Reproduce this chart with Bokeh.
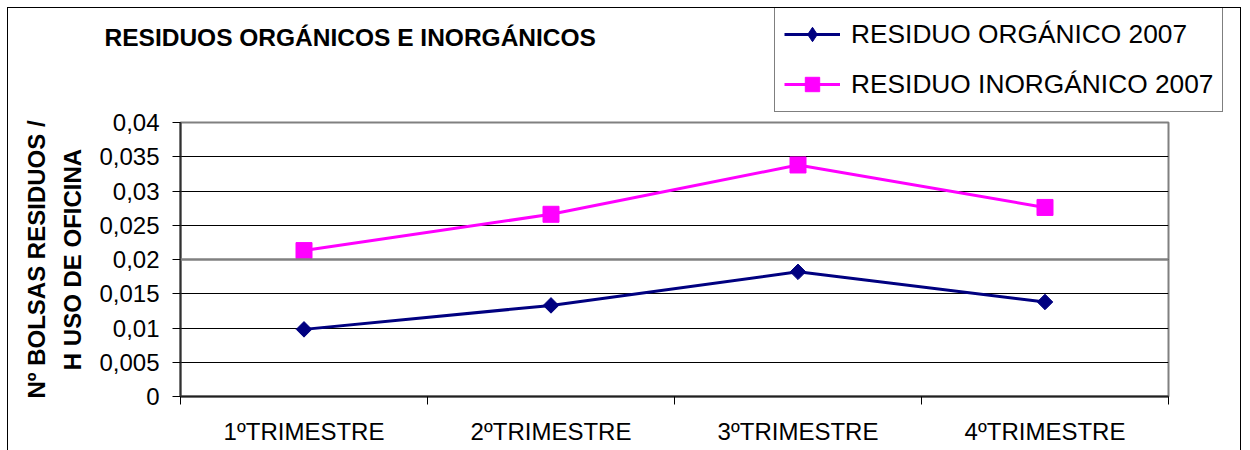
import math
from bokeh.plotting import figure
from bokeh.layouts import column
from bokeh.models import (Range1d, FixedTicker, CustomJSTickFormatter, Label,
                          Legend, LegendItem, Span)
from bokeh.embed import file_html
from bokeh.resources import INLINE

# ---- data ----
categories = ["1ºTRIMESTRE", "2ºTRIMESTRE", "3ºTRIMESTRE", "4ºTRIMESTRE"]
organico = [0.0098, 0.0133, 0.0182, 0.0138]
inorganico = [0.0213, 0.0266, 0.0338, 0.0276]
series_names = ["RESIDUO ORGÁNICO 2007", "RESIDUO INORGÁNICO 2007"]
y_ticks = [0, 0.005, 0.01, 0.015, 0.02, 0.025, 0.03, 0.035, 0.04]
emphasized_grid = [0.02]
title_text = "RESIDUOS ORGÁNICOS E INORGÁNICOS"
y_title = "Nº BOLSAS RESIDUOS /\nH USO DE OFICINA"

FONT = "Liberation Sans"
NAVY = "#000080"
MAGENTA = "#FF00FF"
BORDER = "1px solid #000000"
NAN = [float("nan")]  # legend-only swatches (nothing drawn in the header)

n = len(categories)
centers = [i + 0.5 for i in range(n)]
bounds = [float(i) for i in range(n + 1)]

# ---------------- header: title + legend ----------------
header = figure(width=1234, height=107, output_backend="svg", toolbar_location=None,
                x_range=Range1d(0, 1), y_range=Range1d(0, 1),
                x_axis_type=None, y_axis_type=None,
                min_border_left=0, min_border_right=0, min_border_top=0,
                min_border_bottom=0)
header.frame_align = False
header.styles = {"margin-left": "7px", "margin-top": "7px",
                 "border-left": BORDER, "border-top": BORDER, "border-right": BORDER}
header.outline_line_color = None
header.background_fill_color = "white"
header.border_fill_color = "white"
header.xgrid.grid_line_color = None
header.ygrid.grid_line_color = None

hl1 = header.line(x=NAN, y=NAN, line_color=NAVY, line_width=3)
hs1 = header.scatter(x=NAN, y=NAN, marker="diamond", size=16,
                     fill_color=NAVY, line_color=NAVY)
hl2 = header.line(x=NAN, y=NAN, line_color=MAGENTA, line_width=3)
hs2 = header.scatter(x=NAN, y=NAN, marker="square", size=14,
                     fill_color=MAGENTA, line_color=MAGENTA)

legend = Legend(items=[LegendItem(label=series_names[0], renderers=[hl1, hs1]),
                       LegendItem(label=series_names[1], renderers=[hl2, hs2])],
                location=(766, 3))
legend.label_text_font = FONT
legend.label_text_font_size = "26.3px"
legend.label_text_color = "black"
legend.glyph_width = 56
legend.glyph_height = 36
legend.label_height = 36
legend.label_standoff = 11
legend.spacing = 14
legend.padding = 9
legend.margin = 0
legend.border_line_color = "black"
legend.border_line_width = 1
legend.background_fill_color = "white"
legend.background_fill_alpha = 1
header.add_layout(legend, "center")

header.add_layout(Label(x=96, y=78, x_units="screen", y_units="screen",
                        text=title_text, text_font=FONT, text_font_style="bold",
                        text_font_size="24.5px", text_align="left",
                        text_baseline="middle", text_color="black"))

# ---------------- main chart ----------------
p = figure(width=1234, height=346, output_backend="svg", toolbar_location=None,
           x_range=Range1d(0, n), y_range=Range1d(y_ticks[0], y_ticks[-1]),
           min_border_left=172, min_border_right=74, min_border_top=18,
           min_border_bottom=54)
p.frame_align = False
p.styles = {"margin-left": "7px", "margin-top": "-10px",
            "border-left": BORDER, "border-right": BORDER}
p.background_fill_color = "white"
p.border_fill_color = "white"
p.border_fill_alpha = 0
p.outline_line_color = "#808080"
p.outline_line_width = 2

# x axis
xa = p.xaxis[0]
xa.ticker = FixedTicker(ticks=centers, minor_ticks=bounds)
xa.major_label_overrides = {c: lab for c, lab in zip(centers, categories)}
xa.major_tick_out = 0
xa.major_tick_in = 0
xa.minor_tick_out = 8
xa.minor_tick_in = 0
xa.minor_tick_line_color = "black"
xa.axis_line_color = "#202020"
xa.axis_line_width = 2
xa.major_label_text_font = FONT
xa.major_label_text_font_size = "24px"
xa.major_label_text_color = "black"
xa.major_label_standoff = 13

# y axis
ya = p.yaxis[0]
ya.ticker = FixedTicker(ticks=y_ticks)
ya.formatter = CustomJSTickFormatter(code="""
if (tick == 0) return '0';
let s = tick.toFixed(3).replace(/0+$/, '').replace(/\\.$/, '');
return s.replace('.', ',');
""")
ya.major_tick_out = 8
ya.major_tick_in = 0
ya.minor_tick_line_color = None
ya.major_tick_line_color = "black"
ya.axis_line_color = "#303030"
ya.axis_line_width = 2
ya.major_label_text_font = FONT
ya.major_label_text_font_size = "24px"
ya.major_label_text_color = "black"
ya.major_label_standoff = 13
ya.axis_label = y_title
ya.axis_label_text_font = FONT
ya.axis_label_text_font_style = "bold"
ya.axis_label_text_font_size = "24px"
ya.axis_label_text_color = "black"
ya.axis_label_text_line_height = 1.35
ya.axis_label_standoff = 10

p.xgrid.grid_line_color = None
p.ygrid.ticker = FixedTicker(ticks=y_ticks)
p.ygrid.grid_line_color = "#000000"
p.ygrid.grid_line_width = 1

for v in emphasized_grid:
    p.add_layout(Span(location=v, dimension="width", line_color="#808080",
                      line_width=2.5))

# series
p.line(centers, organico, line_color=NAVY, line_width=3)
p.scatter(centers, organico, marker="square", angle=math.pi / 4, size=11,
          fill_color=NAVY, line_color=NAVY)
p.line(centers, inorganico, line_color=MAGENTA, line_width=3)
p.scatter(centers, inorganico, marker="square", size=16,
          fill_color=MAGENTA, line_color=MAGENTA)

layout = column(header, p, spacing=0)
open("out.html", "w").write(file_html(layout, INLINE))
